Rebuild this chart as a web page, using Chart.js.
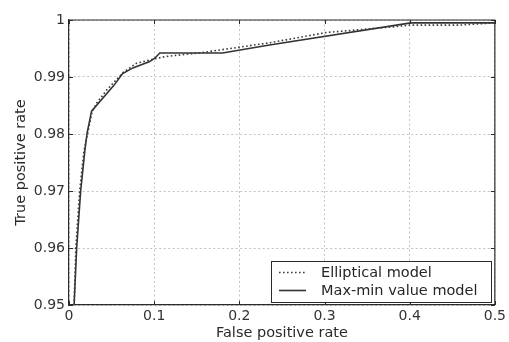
<!DOCTYPE html>
<html>
<head>
<meta charset="utf-8">
<script src="https://cdn.jsdelivr.net/npm/chart.js@4/dist/chart.umd.min.js"></script>
<style>
  html, body { margin: 0; padding: 0; background: #ffffff; }
  #wrap { width: 509px; height: 342px; }
</style>
</head>
<body>
<div id="wrap"><canvas id="c" width="509" height="342"></canvas></div>
<script>
// ---- data ----
const seriesNames = ['Elliptical model', 'Max-min value model'];

const fprElliptical = [0.006, 0.008, 0.0125, 0.0175, 0.022, 0.027, 0.0324, 0.0441, 0.0636, 0.0792, 0.1007, 0.114, 0.157, 0.2354, 0.3017, 0.38, 0.40, 0.458, 0.50];
const tprElliptical = [0.950, 0.960, 0.970, 0.9770, 0.9802, 0.9838, 0.9854, 0.9877, 0.9908, 0.9924, 0.9932, 0.9936, 0.9943, 0.9960, 0.9978, 0.9988, 0.9991, 0.9991, 0.9995];

const fprMaxMin = [0.006, 0.009, 0.0137, 0.0187, 0.0213, 0.0265, 0.052, 0.063, 0.075, 0.0948, 0.1007, 0.1066, 0.1803, 0.2354, 0.4013, 0.50];
const tprMaxMin = [0.950, 0.960, 0.970, 0.9772, 0.9802, 0.9840, 0.9884, 0.9906, 0.9916, 0.9927, 0.9933, 0.9942, 0.9942, 0.9956, 0.9995, 0.9995];

const xTickValues = [0, 0.1, 0.2, 0.3, 0.4, 0.5];
const xTickLabels = ['0', '0.1', '0.2', '0.3', '0.4', '0.5'];
const yTickValues = [0.95, 0.96, 0.97, 0.98, 0.99, 1];
const yTickLabels = ['0.95', '0.96', '0.97', '0.98', '0.99', '1'];

const xTitle = 'False positive rate';
const yTitle = 'True positive rate';

// ---- chart ----
const FONT = '"DejaVu Sans", "Liberation Sans", sans-serif';
const INK = '#2b2b2b';

const toPoints = (xs, ys) => xs.map((x, i) => ({ x: x, y: ys[i] }));

const framePlugin = {
  id: 'frameTicks',
  afterDatasetsDraw(chart) {
    const { ctx, chartArea, scales } = chart;
    const { left, right, top, bottom } = chartArea;
    ctx.save();
    ctx.strokeStyle = INK;
    ctx.lineWidth = 1.2;
    ctx.setLineDash([]);
    ctx.beginPath();
    ctx.moveTo(left, top); ctx.lineTo(right, top); ctx.lineTo(right, bottom);
    ctx.stroke();
    ctx.lineWidth = 1;
    ctx.beginPath();
    scales.x.ticks.forEach(t => {
      const px = Math.round(scales.x.getPixelForValue(t.value)) + 0.5;
      ctx.moveTo(px, bottom); ctx.lineTo(px, bottom - 4);
      ctx.moveTo(px, top); ctx.lineTo(px, top + 4);
    });
    scales.y.ticks.forEach(t => {
      const py = Math.round(scales.y.getPixelForValue(t.value)) + 0.5;
      ctx.moveTo(left, py); ctx.lineTo(left + 4, py);
      ctx.moveTo(right, py); ctx.lineTo(right - 4, py);
    });
    ctx.stroke();
    ctx.restore();
  }
};

const legendBoxPlugin = {
  id: 'legendBox',
  afterDraw(chart) {
    const { ctx, chartArea } = chart;
    const w = 220, h = 41;
    const x0 = Math.round(chartArea.right - 4 - w);
    const y0 = Math.round(chartArea.bottom - 3 - h);
    ctx.save();
    ctx.fillStyle = '#ffffff';
    ctx.fillRect(x0, y0, w, h);
    ctx.strokeStyle = INK;
    ctx.lineWidth = 1;
    ctx.setLineDash([]);
    ctx.strokeRect(x0 + 0.5, y0 + 0.5, w, h);
    chart.data.datasets.forEach((ds, i) => {
      const y = y0 + 11.5 + i * 18;
      ctx.setLineDash(ds.borderDash || []);
      ctx.strokeStyle = ds.borderColor;
      ctx.lineWidth = ds.borderWidth;
      ctx.beginPath();
      ctx.moveTo(x0 + 8, y); ctx.lineTo(x0 + 35, y);
      ctx.stroke();
      ctx.setLineDash([]);
      ctx.fillStyle = '#262626';
      ctx.font = '14.5px ' + FONT;
      ctx.textBaseline = 'middle';
      ctx.textAlign = 'left';
      ctx.fillText(ds.label, x0 + 50, y + 0.5);
    });
    ctx.restore();
  }
};

new Chart(document.getElementById('c'), {
  type: 'scatter',
  data: {
    datasets: [
      {
        label: seriesNames[0],
        data: toPoints(fprElliptical, tprElliptical),
        showLine: true,
        borderColor: '#3a3a3a',
        borderWidth: 1.6,
        borderDash: [1.6, 2.4],
        pointRadius: 0,
        tension: 0,
        fill: false
      },
      {
        label: seriesNames[1],
        data: toPoints(fprMaxMin, tprMaxMin),
        showLine: true,
        borderColor: '#333333',
        borderWidth: 1.6,
        pointRadius: 0,
        tension: 0,
        fill: false
      }
    ]
  },
  options: {
    responsive: false,
    animation: false,
    devicePixelRatio: 1,
    layout: { padding: { top: 20, right: 13, left: 0, bottom: 0 } },
    plugins: {
      legend: { display: false },
      tooltip: { enabled: false }
    },
    scales: {
      x: {
        type: 'linear',
        min: 0, max: 0.5,
        afterBuildTicks: (s) => { s.ticks = xTickValues.map(v => ({ value: v })); },
        afterFit: (s) => { s.height = 37; },
        ticks: {
          callback: (v) => xTickLabels[xTickValues.indexOf(v)],
          color: '#333333',
          font: { family: FONT, size: 14 },
          padding: 3,
          maxRotation: 0,
          autoSkip: false
        },
        grid: { color: 'rgba(120,120,120,0.45)', lineWidth: 1, drawTicks: false },
        border: { display: true, color: INK, width: 1.2, dash: [2, 2.5] },
        title: {
          display: true, text: xTitle, color: '#2b2b2b',
          font: { family: FONT, size: 14.5 },
          padding: { top: 0, bottom: 0 }
        }
      },
      y: {
        type: 'linear',
        min: 0.95, max: 1,
        afterBuildTicks: (s) => { s.ticks = yTickValues.map(v => ({ value: v })); },
        afterFit: (s) => { s.width = 69; },
        ticks: {
          callback: (v) => yTickLabels[yTickValues.findIndex(t => Math.abs(t - v) < 1e-9)],
          color: '#333333',
          font: { family: FONT, size: 14 },
          padding: 4,
          autoSkip: false
        },
        grid: { color: 'rgba(120,120,120,0.45)', lineWidth: 1, drawTicks: false },
        border: { display: true, color: INK, width: 1.2, dash: [2, 2.5] },
        title: {
          display: true, text: yTitle, color: '#2b2b2b',
          font: { family: FONT, size: 14.5 },
          padding: { top: 13, bottom: 0 }
        }
      }
    }
  },
  plugins: [framePlugin, legendBoxPlugin]
});
</script>
</body>
</html>
